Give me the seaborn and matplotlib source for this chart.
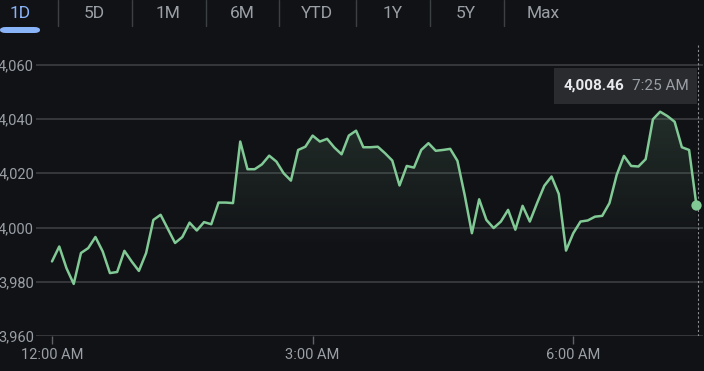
import numpy as np
import pandas as pd
import seaborn as sns
import matplotlib.pyplot as plt
from matplotlib.patches import FancyBboxPatch
from matplotlib.lines import Line2D
from matplotlib.colors import LinearSegmentedColormap

# --- data (5-minute closes) ---
prices = [
    3987.5, 3993.0, 3985.0, 3979.2, 3990.6, 3992.4, 3996.5, 3991.2, 3983.2, 3983.6,
    3991.4, 3987.5, 3984.0, 3990.6, 4002.8, 4004.7, 3999.5, 3994.3, 3996.5, 4001.8,
    3998.9, 4002.0, 4001.2, 4009.2, 4009.2, 4009.0, 4031.7, 4021.5, 4021.5, 4023.3,
    4026.5, 4024.3, 4020.0, 4017.3, 4028.6, 4029.8, 4033.9, 4031.7, 4032.7, 4029.5,
    4027.0, 4033.9, 4035.7, 4029.6, 4029.6, 4029.8, 4027.4, 4024.7, 4015.5, 4022.7,
    4022.1, 4028.6, 4031.1, 4028.3, 4028.6, 4029.0, 4024.6, 4012.0, 3997.9, 4010.4,
    4002.8, 3999.8, 4002.2, 4006.5, 3999.2, 4008.0, 4002.2, 4009.0, 4015.4, 4018.8,
    4012.4, 3991.5, 3997.9, 4002.2, 4002.6, 4004.0, 4004.3, 4009.0, 4019.4, 4026.4,
    4022.7, 4022.5, 4025.2, 4039.9, 4042.7, 4041.1, 4039.0, 4029.6, 4028.6, 4008.46,
]
times = pd.date_range("2023-01-01 00:00", periods=len(prices), freq="5min")
last_label = "7:25 AM"

tabs = ["1D", "5D", "1M", "6M", "YTD", "1Y", "5Y", "Max"]
y_ticks = [3960, 3980, 4000, 4020, 4040, 4060]
x_ticks = [0, 180, 360]
x_labels = ["12:00 AM", "3:00 AM", "6:00 AM"]

df = pd.DataFrame({"minute": (times - times[0]).total_seconds() / 60, "price": prices})

# --- style ---
bg = "#111216"
grid = "#3c3e42"
muted = "#9aa0a6"
green = "#81c995"

sns.set_style("dark", {"axes.facecolor": bg, "figure.facecolor": bg})
plt.rcParams["font.family"] = ["Roboto", "DejaVu Sans"]

W, H = 704, 371
fig = plt.figure(figsize=(W / 100, H / 100), dpi=100)
ax = fig.add_axes([36 / W, (H - 336) / H, (703 - 36) / W, (336 - 45) / H])

xmin, xmax = -11.05, 449.6
ymin, ymax = 3960, 4067.3

# gradient fill under the line
fill = ax.fill_between(df["minute"], df["price"], ymin, color="none", lw=0)
cmap = LinearSegmentedColormap.from_list(
    "g", [(0.506, 0.788, 0.584, 0.0), (0.506, 0.788, 0.584, 0.16)])
img = ax.imshow(np.linspace(0, 1, 256).reshape(-1, 1), cmap=cmap, origin="lower",
                extent=[xmin, xmax, 3992, max(prices)], aspect="auto", zorder=1)
img.set_clip_path(fill.get_paths()[0], transform=ax.transData)

sns.lineplot(data=df, x="minute", y="price", color=green, lw=1.8, ax=ax, zorder=3)
ax.scatter(df["minute"].iloc[-1], df["price"].iloc[-1], s=55, color=green, zorder=4, lw=0)
ax.axvline(df["minute"].iloc[-1] + 1, color="#8a8d92", lw=0.8, ls=(0, (2, 2)), zorder=2)

ax.set_xlim(xmin, xmax)
ax.set_ylim(ymin, ymax)
ax.set_yticks(y_ticks)
ax.set_yticklabels([f"{v:,}" for v in y_ticks])
ax.set_xticks(x_ticks)
ax.set_xticklabels(x_labels)
ax.grid(axis="y", color=grid, lw=1.2)
ax.grid(axis="x", visible=False)
ax.tick_params(axis="y", length=0, pad=1.5, labelsize=10.5, labelcolor=muted)
ax.tick_params(axis="x", length=6, width=1, color="#5f6368", pad=2.5,
               labelsize=10.5, labelcolor=muted, bottom=True)
ax.set_xlabel("")
ax.set_ylabel("")
for s in ax.spines.values():
    s.set_visible(False)


def fx(x):
    return x / W


def fy(y):
    return 1 - y / H


# range tabs
tab_x = [20, 94, 168, 242, 317, 393, 466, 543]
for i, (t, x) in enumerate(zip(tabs, tab_x)):
    fig.text(fx(x), fy(13), t, ha="center", va="center", fontsize=12.5,
             color="#8ab4f8" if i == 0 else muted)
for x in [57.5, 131.6, 205.7, 279.3, 355.6, 429.7, 503.8]:
    fig.add_artist(Line2D([fx(x), fx(x)], [fy(0), fy(26)], color="#3c4043", lw=1))
fig.add_artist(FancyBboxPatch((fx(0), fy(33)), fx(40), fy(27) - fy(33),
                              boxstyle="round,pad=0,rounding_size=0.008",
                              color="#8ab4f8", lw=0, transform=fig.transFigure))

# tooltip
fig.add_artist(FancyBboxPatch((fx(554), fy(104)), fx(697) - fx(554), fy(68) - fy(104),
                              boxstyle="square,pad=0", color="#2a2b2f", lw=0,
                              transform=fig.transFigure, zorder=5))
fig.text(fx(564), fy(86), f"{prices[-1]:,.2f}", ha="left", va="center", fontsize=11,
         fontweight="bold", color="#e8eaed", zorder=6)
fig.text(fx(632), fy(86), last_label, ha="left", va="center", fontsize=11,
         color=muted, zorder=6)

plt.savefig("out.png", dpi=100, facecolor=bg)
